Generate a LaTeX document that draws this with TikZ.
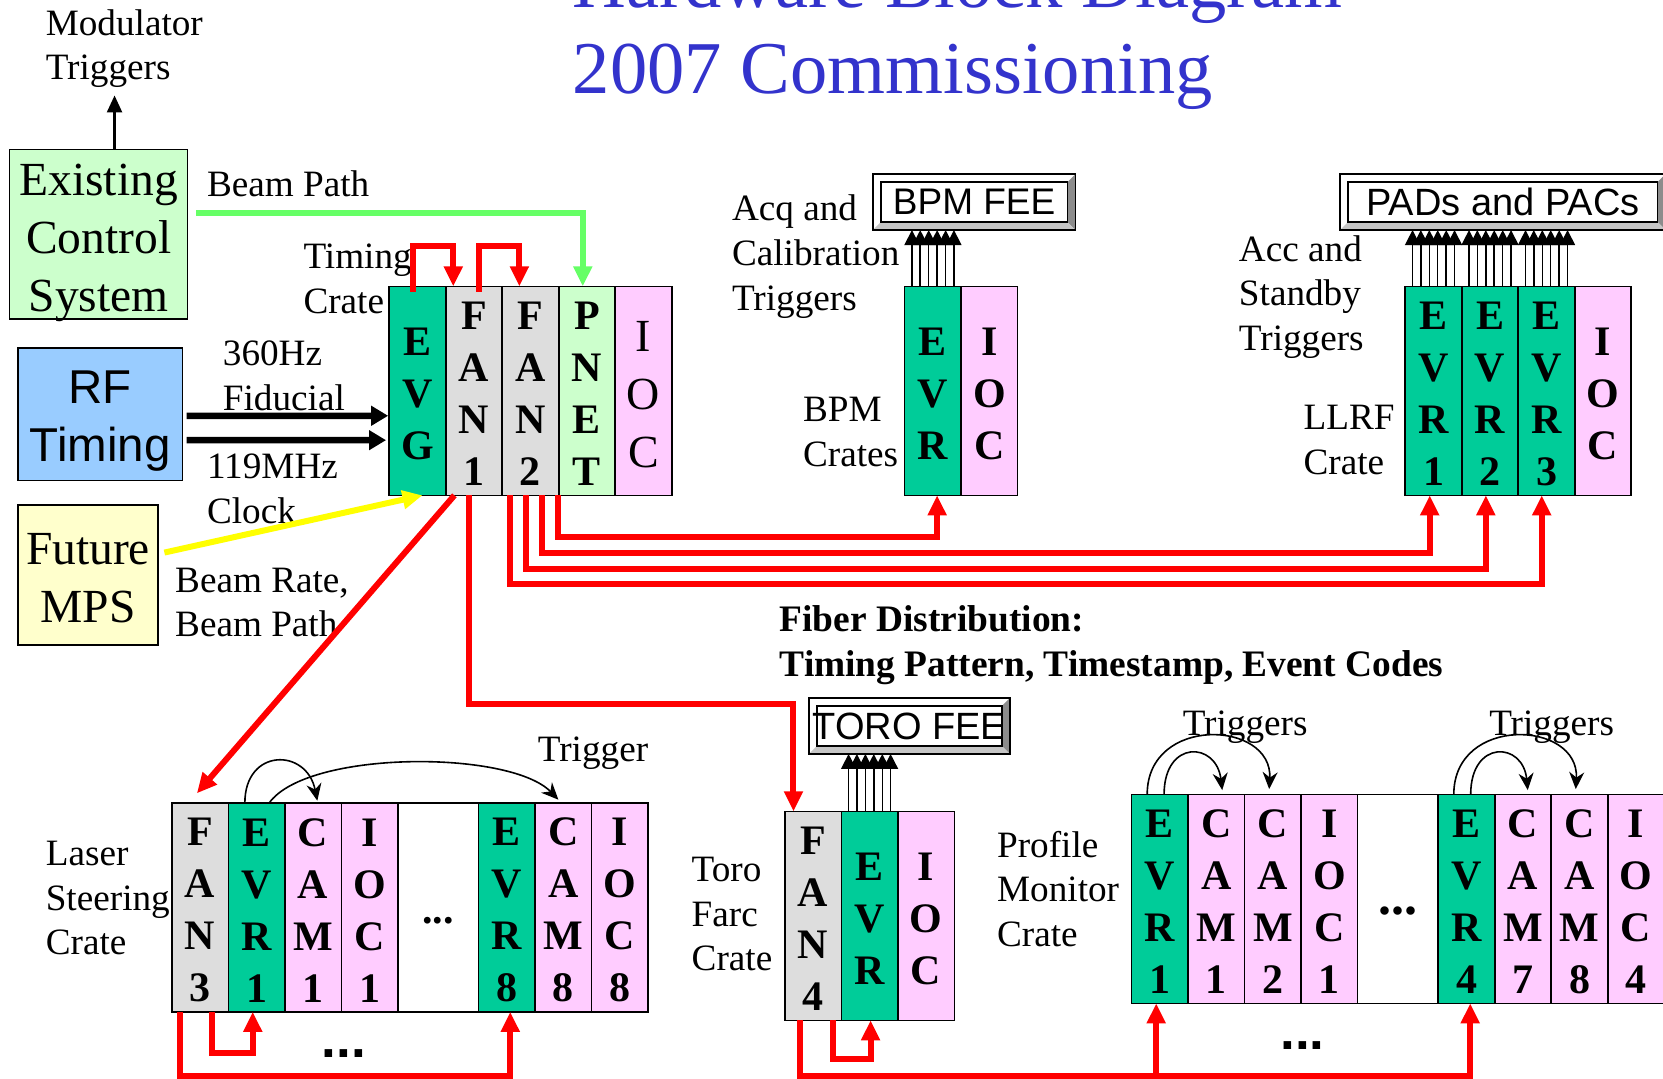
\documentclass[tikz,border=0pt]{standalone}
\usepackage{fontspec}
\setmainfont{Liberation Serif}
\setsansfont{Liberation Sans}
\usetikzlibrary{positioning,arrows.meta}
\definecolor{hw-blue}{RGB}{51,51,204}
\definecolor{hw-evr}{RGB}{0,204,153}
\definecolor{hw-fan}{RGB}{221,221,221}
\definecolor{hw-ioc}{RGB}{255,204,255}
\definecolor{hw-mint}{RGB}{204,255,204}
\definecolor{hw-sky}{RGB}{153,204,255}
\definecolor{hw-cream}{RGB}{255,255,204}
\definecolor{hw-lime}{RGB}{102,255,102}
\definecolor{hw-red}{RGB}{255,0,0}
\definecolor{hw-yellow}{RGB}{255,255,0}
\tikzset{
    slot/.style={draw, line width=1.6pt, minimum width=56.5pt, minimum height=209pt,
        inner sep=0pt, outer sep=0pt, align=center,
        font=\fontsize{42}{52}\selectfont\bfseries},
    evrslot/.style={slot, fill=hw-evr},
    fanslot/.style={slot, fill=hw-fan},
    iocslot/.style={slot, fill=hw-ioc},
    gapslot/.style={slot, minimum width=80.6pt},
    sysbox/.style={draw, line width=1.6pt, inner sep=0pt, outer sep=0pt, align=center},
    feebox/.style={draw, fill=white, line width=1.6pt, inner sep=0pt, outer sep=0pt,
        minimum width=202.6pt, minimum height=56pt, font=\sffamily\fontsize{37}{44}\selectfont},
    lbl/.style={align=left, inner sep=0pt, anchor=west, font=\fontsize{37.2}{44.6}\selectfont},
    fiber/.style={draw=hw-red, line width=6pt, -{Triangle[length=20pt,width=18pt]}},
    trig/.style={draw=black, line width=1.5pt, -{Triangle[length=15pt,width=15pt]}},
    wire/.style={draw=black, line width=1.6pt, -{Stealth[length=17pt,width=15pt]}},
    ref/.style={draw=black, line width=6.5pt, -{Triangle[length=17pt,width=19pt]}},
    dotrow/.style={inner sep=0pt, font=\sffamily\bfseries\fontsize{53}{53}\selectfont},
}
\newcommand{\stt}{\rule{0pt}{33.5pt}}
\newcommand{\bevelbox}[1]{
    \fill[gray!90] (#1.north east) -- (#1.south east) -- ([shift={(-7.5,-7.5)}]#1.south east) -- ([shift={(-7.5,7.5)}]#1.north east) -- cycle;
    \fill[gray!45] (#1.south west) -- (#1.south east) -- ([shift={(-7.5,-7.5)}]#1.south east) -- ([shift={(7.5,-7.5)}]#1.south west) -- cycle;
    \draw[line width=1.4pt] ([shift={(7.5,7.5)}]#1.north west) rectangle ([shift={(-7.5,-7.5)}]#1.south east);
    \draw[line width=1.6pt] (#1.north west) rectangle (#1.south east);
}

\begin{document}
\begin{tikzpicture}[x=1.0606pt, y=-1.0606pt]
    \useasboundingbox (0,0) rectangle (1568,1017);

    \node[align=left, inner sep=0pt, anchor=west, text=hw-blue, font=\fontsize{74.5}{86}\selectfont] (title) at (540,31) {Hardware Block Diagram\\2007 Commissioning};

    % left hand boxes
    \node[sysbox, fill=hw-mint, minimum width=178pt, minimum height=169.7pt, font=\fontsize{47.5}{58}\selectfont] (existing) at (93,221) {\rule{0pt}{38pt}Existing\\Control\\\smash{System}};
    \node[sysbox, fill=hw-sky, minimum width=164.4pt, minimum height=132.6pt, font=\sffamily\fontsize{47.5}{58}\selectfont] (rftiming) at (94.5,390.5) {\rule{0pt}{47pt}RF\\Timing};
    \node[sysbox, fill=hw-cream, minimum width=140pt, minimum height=140pt, font=\fontsize{47.5}{58}\selectfont] (future) at (83,542) {\rule{0pt}{38pt}Future\\MPS};

    % timing crate
    \node[evrslot, anchor=north west] (evg) at (367,270) {\stt E\\V\\G};
    \node[fanslot, right=0pt of evg] (fan1) {\stt F\\A\\N\\1};
    \node[fanslot, right=0pt of fan1] (fan2) {\stt F\\A\\N\\2};
    \node[slot, fill=hw-mint, right=0pt of fan2] (pnet) {\stt P\\N\\E\\T};
    \node[iocslot, right=0pt of pnet, font=\fontsize{46}{58}\selectfont] (tioc) {\rule{0pt}{37pt}I\\O\\C};

    % BPM crate
    \node[evrslot, anchor=north west] (bpmevr) at (853,270) {\stt E\\V\\R};
    \node[iocslot, right=0pt of bpmevr] (bpmioc) {\stt I\\O\\C};
    \node[feebox] (bpmfee) at (918.5,190.5) {BPM FEE};
    \bevelbox{bpmfee}

    % LLRF crate
    \node[evrslot, anchor=north west] (llrf1) at (1325,270) {\stt E\\V\\R\\1};
    \node[evrslot, right=0pt of llrf1] (llrf2) {\stt E\\V\\R\\2};
    \node[evrslot, right=0pt of llrf2] (llrf3) {\stt E\\V\\R\\3};
    \node[iocslot, right=0pt of llrf3] (llrfioc) {\stt I\\O\\C};
    \node[feebox, minimum width=325.6pt, font=\sffamily\fontsize{38}{44}\selectfont] (padpac) at (1417,190.5) {PADs and PACs};
    \bevelbox{padpac}

    % laser steering crate
    \node[fanslot, anchor=north west] (fan3) at (162,757) {\stt F\\A\\N\\3};
    \node[evrslot, right=0pt of fan3] (lsevr1) {\stt E\\V\\R\\1};
    \node[iocslot, right=0pt of lsevr1] (lscam1) {\stt C\\A\\M\\1};
    \node[iocslot, right=0pt of lscam1] (lsioc1) {\stt I\\O\\C\\1};
    \node[gapslot, right=0pt of lsioc1] (lsgap) {\smash{\raisebox{-16pt}{...}}};
    \node[evrslot, right=0pt of lsgap] (lsevr8) {\stt E\\V\\R\\8};
    \node[iocslot, right=0pt of lsevr8] (lscam8) {\stt C\\A\\M\\8};
    \node[iocslot, right=0pt of lscam8] (lsioc8) {\stt I\\O\\C\\8};

    % toro crate
    \node[fanslot, anchor=north west] (fan4) at (740,765) {\stt F\\A\\N\\4};
    \node[evrslot, right=0pt of fan4] (toroevr) {\stt E\\V\\R};
    \node[iocslot, right=0pt of toroevr] (toroioc) {\stt I\\O\\C};
    \node[feebox, minimum width=201pt, font=\sffamily\fontsize{38}{44}\selectfont] (torofee) at (857.5,684.5) {TORO FEE};
    \bevelbox{torofee}

    % profile monitor crate
    \node[evrslot, anchor=north west] (prevr1) at (1067,749) {\stt E\\V\\R\\1};
    \node[iocslot, right=0pt of prevr1] (prcam1) {\stt C\\A\\M\\1};
    \node[iocslot, right=0pt of prcam1] (prcam2) {\stt C\\A\\M\\2};
    \node[iocslot, right=0pt of prcam2] (prioc1) {\stt I\\O\\C\\1};
    \node[gapslot, right=0pt of prioc1, font=\fontsize{52}{52}\selectfont\bfseries] (prgap) {\smash{\raisebox{-16pt}{...}}};
    \node[evrslot, right=0pt of prgap] (prevr4) {\stt E\\V\\R\\4};
    \node[iocslot, right=0pt of prevr4] (prcam7) {\stt C\\A\\M\\7};
    \node[iocslot, right=0pt of prcam7] (prcam8) {\stt C\\A\\M\\8};
    \node[iocslot, right=0pt of prcam8] (prioc4) {\stt I\\O\\C\\4};

    % labels
    \node[lbl] (modlbl) at (43,46) {Modulator\\Triggers};
    \node[lbl] (pathlbl) at (195,173) {Beam Path};
    \node[lbl] (cratelbl) at (286,263) {Timing\\Crate};
    \node[lbl] (fidlbl) at (210,354.5) {360Hz\\Fiducial};
    \node[lbl] (clklbl) at (195,461) {119MHz\\Clock};
    \node[lbl] (ratelbl) at (165,568) {Beam Rate,\\Beam Path};
    \node[lbl] (acqlbl) at (690,242) {Acq and\\Calibration\\Triggers};
    \node[lbl] (bpmlbl) at (757,407.5) {BPM\\Crates};
    \node[lbl] (acclbl) at (1168,280) {Acc and\\Standby\\Triggers};
    \node[lbl] (llrflbl) at (1229,415) {LLRF\\Crate};
    \node[lbl, font=\fontsize{37.4}{44.6}\selectfont\bfseries] (fiberlbl) at (735,608.5) {Fiber Distribution:\\Timing Pattern, Timestamp, Event Codes};
    \node[lbl] (triglbl) at (507,710) {Trigger};
    \node[lbl] (laserlbl) at (43,847) {Laser\\Steering\\Crate};
    \node[lbl] (torolbl) at (652,862) {Toro\\Farc\\Crate};
    \node[lbl] (proflbl) at (940,838) {Profile\\Monitor\\Crate};
    \node[lbl] (trigalbl) at (1115,686) {Triggers};
    \node[lbl] (trigblbl) at (1404,686) {Triggers};
    \node[dotrow] (lsdots) at (324,993) {...};
    \node[dotrow] (prdots) at (1228,986) {...};

    % inputs
    \coordinate (modtip) at (108,90);
    \draw[draw=black, line width=2.4pt, -{Triangle[length=17pt,width=15pt]}] (existing.north -| modtip) -- (modtip);
    \draw[draw=hw-lime, line width=6pt, -{Triangle[length=20pt,width=18pt]}] ([shift={(8,-20)}]existing.east) -| ([xshift=-4.2]pnet.north);
    \draw[ref] ([shift={(4,1.5)}]rftiming.east) -- ([shift={(-1,23.5)}]evg.west);
    \draw[ref] ([shift={(4,24.5)}]rftiming.east) -- ([shift={(-3,46.5)}]evg.west);
    \draw[draw=hw-yellow, line width=6pt, -{Triangle[length=20pt,width=18pt]}] ([shift={(6,-21)}]future.east) -- ([xshift=5]evg.south);

    % timing crate fiber
    \draw[fiber] ([shift={(-4,5)}]evg.north) -- ++(0,-43) -| ([xshift=-20.7]fan1.north);
    \draw[fiber] ([shift={(4.5,5)}]fan1.north) -- ++(0,-43) -| ([xshift=-11.1]fan2.north);
    \draw[fiber] ([xshift=-19.6]fan1.south) -- ([shift={(-3,-9)}]fan3.north);
    \draw[fiber] ([xshift=-4.8]fan1.south) -- ++(0,197) -| ([xshift=-19.6]fan4.north);
    \draw[fiber] ([xshift=-20]fan2.south) -- ++(0,84) -| ([xshift=-4.8]llrf3.south);
    \draw[fiber] ([xshift=-4.2]fan2.south) -- ++(0,69) -| ([xshift=-4.2]llrf2.south);
    \draw[fiber] ([xshift=11.7]fan2.south) -- ++(0,54) -| ([xshift=-3.8]llrf1.south);
    \draw[fiber] ([xshift=-29]pnet.south) -- ++(0,39) -| ([xshift=4.2]bpmevr.south);

    % crate fiber
    \draw[fiber] ([xshift=-19.7]fan3.south) -- ++(0,60) -| ([xshift=3.6]lsevr8.south);
    \draw[fiber] ([xshift=12]fan3.south) -- ++(0,39) -| ([xshift=-3.8]lsevr1.south);
    \draw[fiber] ([xshift=19.5]fan4.south) -- ++(0,36) -| ([xshift=1]toroevr.south);
    \draw[fiber] ([xshift=-13.4]fan4.south) -- ++(0,52) -| ([xshift=-3.7]prevr1.south);
    \draw[fiber] ([xshift=-13.4]fan4.south) -- ++(0,52) -| ([xshift=3.7]prevr4.south);

    % trigger bundles
    \foreach \dx in {-21,-12.7,-4.2,4.2,12.7,21} {
        \draw[trig] ([xshift=\dx]bpmevr.north) -- ([xshift=\dx]bpmevr.north |- bpmfee.south);
        \draw[trig] ([xshift=\dx]llrf1.north) -- ([xshift=\dx]llrf1.north |- padpac.south);
        \draw[trig] ([xshift=\dx]llrf2.north) -- ([xshift=\dx]llrf2.north |- padpac.south);
        \draw[trig] ([xshift=\dx]llrf3.north) -- ([xshift=\dx]llrf3.north |- padpac.south);
        \draw[trig] ([xshift=\dx]toroevr.north) -- ([xshift=\dx]toroevr.north |- torofee.south);
    }

    % local triggers
    \draw[wire] ([xshift=-11.7]lsevr1.north) .. controls ++(0,-52) and ([shift={(-6,-52)}]lscam1.north) .. ([shift={(4,-2)}]lscam1.north);
    \draw[wire] ([xshift=12.7]lsevr1.north) .. controls ++(36,-50) and ([shift={(-50,-50)}]lscam8.north) .. ([shift={(-4.5,-3)}]lscam8.north);
    \draw[wire] ([xshift=-12.7]prevr1.north) .. controls ++(0,-75) and ([shift={(0,-70)}]prcam2.north) .. ([shift={(-3.5,-5)}]prcam2.north);
    \draw[wire] ([xshift=4.2]prevr1.north) .. controls ++(0,-52) and ([shift={(0,-50)}]prcam1.north) .. ([shift={(5.5,-4)}]prcam1.north);
    \draw[wire] ([xshift=-12.7]prevr4.north) .. controls ++(0,-75) and ([shift={(0,-70)}]prcam8.north) .. ([shift={(-3.5,-5)}]prcam8.north);
    \draw[wire] ([xshift=4.2]prevr4.north) .. controls ++(0,-52) and ([shift={(0,-50)}]prcam7.north) .. ([shift={(4.5,-4)}]prcam7.north);
\end{tikzpicture}
\end{document}
